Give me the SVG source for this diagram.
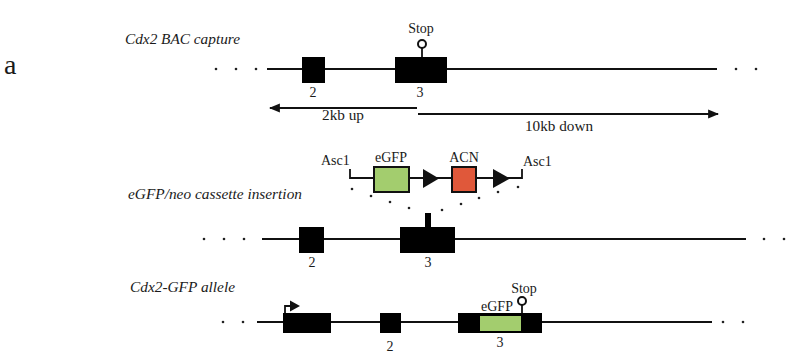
<svg xmlns="http://www.w3.org/2000/svg" width="800" height="358" viewBox="0 0 800 358">
<style>
text{font-family:"Liberation Serif","Times New Roman",serif;fill:#1a1a1a;}
.lab{font-style:italic;font-size:14px;}
.t{font-size:14px;text-anchor:middle;}
.bb{stroke:#111;stroke-width:2.2;fill:none;}
.ln{stroke:#111;stroke-width:1.8;fill:none;}
.ex{fill:#000;}
.dot{fill:#222;}
.gfp{fill:#a3cd6e;stroke:#111;stroke-width:2;}
.acn{fill:#e0583a;stroke:#111;stroke-width:2;}
</style>
<defs>
<marker id="ah" viewBox="0 0 10 10" refX="9" refY="5" markerWidth="11" markerHeight="11" markerUnits="userSpaceOnUse" orient="auto">
<path d="M0,1 L10,5 L0,9 Z" fill="#111"/>
</marker>
</defs>
<rect width="800" height="358" fill="#fff"/>
<text x="4" y="74" style="font-size:28px">a</text>

<g id="row1">
<text class="lab" x="125" y="44" textLength="115" lengthAdjust="spacingAndGlyphs">Cdx2 BAC capture</text>
<circle class="dot" cx="216" cy="69" r="1.3"/><circle class="dot" cx="236" cy="69" r="1.3"/><circle class="dot" cx="256" cy="69" r="1.3"/>
<circle class="dot" cx="736" cy="69" r="1.3"/><circle class="dot" cx="756" cy="69" r="1.3"/>
<line class="bb" x1="267" y1="69" x2="717" y2="69"/>
<g id="r1-exon2"><rect class="ex" x="302" y="57" width="23" height="26"/><text class="t" x="313" y="97">2</text></g>
<g id="r1-exon3"><rect class="ex" x="395" y="57" width="52" height="26"/><text class="t" x="420" y="97">3</text>
<line class="ln" x1="422" y1="57" x2="422" y2="48"/><circle cx="422" cy="44" r="4" fill="#fff" stroke="#111" stroke-width="2"/>
<text class="t" x="421" y="33">Stop</text></g>
</g>

<g id="connectors">
<line class="ln" x1="417" y1="108" x2="270" y2="108" marker-end="url(#ah)"/>
<line class="ln" x1="418" y1="114" x2="718" y2="114" marker-end="url(#ah)"/>
</g>
<text class="t" x="343" y="120" textLength="42" lengthAdjust="spacingAndGlyphs">2kb up</text>
<text class="t" x="559" y="131" textLength="68" lengthAdjust="spacingAndGlyphs">10kb down</text>

<g id="row2">
<text class="lab" x="128" y="199" textLength="174" lengthAdjust="spacingAndGlyphs">eGFP/neo cassette insertion</text>
<circle class="dot" cx="204" cy="239" r="1.3"/><circle class="dot" cx="224" cy="239" r="1.3"/><circle class="dot" cx="244" cy="239" r="1.3"/>
<circle class="dot" cx="764" cy="239" r="1.3"/><circle class="dot" cx="784" cy="239" r="1.3"/>
<line class="bb" x1="262" y1="239" x2="746" y2="239"/>
<g id="r2-exon2"><rect class="ex" x="299" y="227" width="25" height="26"/><text class="t" x="312" y="267">2</text></g>
<g id="r2-exon3"><rect class="ex" x="400" y="227" width="55" height="26"/><rect class="ex" x="425" y="213" width="6" height="15"/><text class="t" x="428" y="267">3</text></g>
</g>

<g id="cassette">
<text x="321" y="165" style="font-size:14px">Asc1</text>
<text x="523" y="166" style="font-size:14px">Asc1</text>
<path class="ln" d="M350,169 V178 H522 V169"/>
<g id="egfp"><rect class="gfp" x="374" y="167" width="35" height="25"/><text class="t" x="391" y="162">eGFP</text></g>
<path d="M423,169 L439,178.5 L423,188 Z" fill="#111"/>
<g id="acn"><rect class="acn" x="452" y="167" width="24" height="25"/><text class="t" x="464" y="162">ACN</text></g>
<path d="M493,169 L510,178.5 L493,188 Z" fill="#111"/>
<circle class="dot" cx="352" cy="189" r="1.3"/><circle class="dot" cx="371" cy="196" r="1.3"/><circle class="dot" cx="390" cy="202" r="1.3"/><circle class="dot" cx="409" cy="208" r="1.3"/>
<circle class="dot" cx="442" cy="210" r="1.3"/><circle class="dot" cx="461" cy="204" r="1.3"/><circle class="dot" cx="479" cy="198" r="1.3"/><circle class="dot" cx="498" cy="192" r="1.3"/><circle class="dot" cx="518" cy="187" r="1.3"/>
</g>

<g id="row3">
<text class="lab" x="130" y="292" textLength="105" lengthAdjust="spacingAndGlyphs">Cdx2-GFP allele</text>
<circle class="dot" cx="223" cy="322" r="1.3"/><circle class="dot" cx="243" cy="322" r="1.3"/>
<circle class="dot" cx="723" cy="322" r="1.3"/><circle class="dot" cx="743" cy="322" r="1.3"/>
<line class="bb" x1="257" y1="322" x2="712" y2="322"/>
<g id="r3-exon1"><rect class="ex" x="283" y="313" width="48" height="20"/>
<path class="ln" d="M285,313 V306 H293" stroke-width="2"/><path d="M290,300.5 L300,306 L290,311.5 Z" fill="#111"/></g>
<g id="r3-exon2"><rect class="ex" x="380" y="313" width="21" height="20"/><text class="t" x="390" y="351">2</text></g>
<g id="r3-exon3"><rect class="ex" x="458" y="313" width="84" height="20"/><rect x="480" y="316" width="41" height="15" fill="#a3cd6e"/>
<text class="t" x="497" y="311">eGFP</text>
<line class="ln" x1="522" y1="313" x2="522" y2="305"/><circle cx="522" cy="301" r="4" fill="#fff" stroke="#111" stroke-width="2"/>
<text class="t" x="524" y="293">Stop</text>
<text class="t" x="500" y="347">3</text></g>
</g>
</svg>
